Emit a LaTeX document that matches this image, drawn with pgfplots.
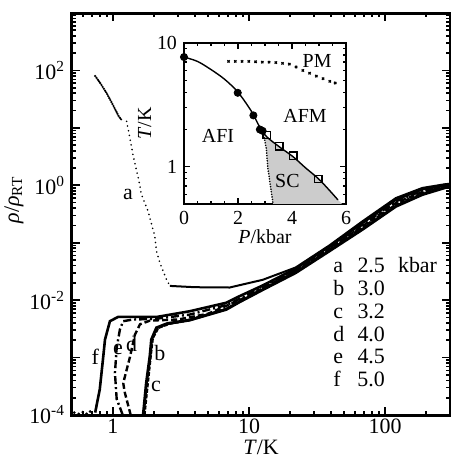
\documentclass[border=0pt]{standalone}
\usepackage{fontspec}
\setmainfont{Liberation Serif}
\usepackage{pgfplots}
\pgfplotsset{compat=1.18}

\begin{document}
\begin{tikzpicture}
\path[use as bounding box] (-36bp,-21bp) rectangle (189.5bp,207.5bp);

% main panel: rho/rho_RT against T
\begin{axis}[
  at={(0,0)}, anchor=south west, scale only axis,
  width=189bp, height=201bp,
  xmode=log, ymode=log,
  xmin=0.5, xmax=300, ymin=1e-4, ymax=1e3,
  axis line style={line width=1.5bp},
  xtick={1,10,100}, xticklabels={1,10,100},
  minor xtick={0.5,0.6,0.7,0.8,0.9,2,3,4,5,6,7,8,9,20,30,40,50,60,70,80,90,200,300},
  ytick={1e-4,1e-3,1e-2,1e-1,1,10,100,1000},
  yticklabels={10\textsuperscript{-4},,10\textsuperscript{-2},,10\textsuperscript{0},,10\textsuperscript{2},},
  major tick length=4bp, minor tick length=2bp,
  every tick/.style={line width=0.8bp, black},
  tick label style={font=\fontsize{11}{13}\selectfont},
  xticklabel style={yshift=1.5bp},
  label style={font=\fontsize{11}{13}\selectfont},
  xlabel={\textit{T}/K},
  ylabel={\textit{ρ}/\textit{ρ}\textsubscript{RT}},
  xlabel style={yshift=3.5bp},
  ylabel style={yshift=-4bp, xshift=7bp},
]
% a 2.5 kbar
\addplot[black, line width=1.2bp, line cap=round, dash pattern=on 0pt off 1.1bp] coordinates {
  (0.74,80)(0.8,62)(0.9,40)(1.0,25)(1.1,16)(1.15,14)
};
\addplot[black, line width=0.9bp, line cap=round, dash pattern=on 0pt off 2.4bp] coordinates {
  (1.26,13)(1.32,7.4)(1.41,3.2)(1.55,1.2)(1.62,0.69)(1.81,0.355)(2.03,0.13)
  (2.09,0.071)(2.21,0.045)(2.47,0.023)(2.62,0.0177)
};
\addplot[black, line width=1bp] coordinates {
  (2.62,0.0177)(4,0.0168)(7.2,0.0166)(12.6,0.0226)(22,0.037)(39,0.09)
  (68,0.235)(120,0.60)(188,0.90)(280,1.05)(300,1.06)
};
% f 5.0 kbar
\addplot[black, line width=1.3bp] coordinates {
  (0.74,1.1e-4)(0.80,2.8e-4)(0.849,1.05e-3)(0.874,2.06e-3)(0.95,4.3e-3)(1.09,5.1e-3)
  (2.1,5.1e-3)(3.66,6.4e-3)(6.8,9.0e-3)(8.5,0.0117)(12.6,0.018)(22,0.0355)
  (39,0.0861)(68,0.220)(120,0.561)(188,0.853)(280,1.02)(300,1.05)
};
\addplot[black, only marks, mark=*, mark size=0.45pt] coordinates {
  (0.52,1.1e-4)(0.56,1.05e-4)(0.6,1.12e-4)(0.64,1.05e-4)(0.68,1.15e-4)
};
% e 4.5 kbar
\addplot[black, line width=1.2bp, dash pattern=on 4bp off 1.5bp on 1bp off 1.5bp] coordinates {
  (1.18,1.0e-4)(1.065,1.9e-4)(1.034,5.4e-4)(1.065,1.47e-3)(1.125,3.1e-3)(1.19,4.3e-3)
  (1.4,4.6e-3)(2.0,4.7e-3)(3.66,5.6e-3)(6.8,8.2e-3)(8.5,0.0105)(12.6,0.0168)(22,0.034)
  (39,0.0822)(68,0.206)(120,0.525)(188,0.809)(280,0.995)(300,1.02)
};
% d 4.0 kbar
\addplot[black, line width=1.2bp, dash pattern=on 3bp off 1.5bp] coordinates {
  (1.35,1.0e-4)(1.22,2.5e-4)(1.19,3.6e-4)(1.33,1.0e-3)(1.45,2.5e-3)(1.58,3.8e-3)
  (1.87,4.4e-3)(3,4.6e-3)(5,5.8e-3)(8.5,0.0100)(12.6,0.0160)(22,0.0326)
  (39,0.0787)(68,0.193)(120,0.491)(188,0.767)(280,0.97)(300,1.0)
};
% c 3.2 kbar
\addplot[black, line width=1.3bp, dash pattern=on 2bp off 0.8bp] coordinates {
  (1.70,1.0e-4)(1.80,3.6e-4)(1.90,1.2e-3)(1.96,2.2e-3)(2.15,3.3e-3)(2.6,3.9e-3)
  (3.66,4.5e-3)(6.8,7.0e-3)(8.5,9.4e-3)(12.6,0.0155)(22,0.0313)
  (39,0.0752)(68,0.181)(120,0.459)(188,0.728)(280,0.944)(300,0.98)
};
% b 3.0 kbar
\addplot[black, line width=1.5bp] coordinates {
  (1.67,1.0e-4)(1.76,3.6e-4)(1.87,1.05e-3)(1.92,2.06e-3)(2.09,3.3e-3)(2.5,3.9e-3)
  (3.66,4.5e-3)(6.8,6.9e-3)(8.5,0.0093)(12.6,0.0152)(22,0.030)
  (39,0.072)(68,0.17)(120,0.43)(188,0.69)(280,0.92)(300,0.95)
};
\node[font=\fontsize{11}{13}\selectfont] at (axis cs:1.29,0.69) {a};
\node[font=\fontsize{11}{13}\selectfont] at (axis cs:0.74,1.05e-3) {f};
\node[font=\fontsize{11}{13}\selectfont] at (axis cs:1.09,1.4e-3) {e};
\node[font=\fontsize{11}{13}\selectfont] at (axis cs:1.37,1.7e-3) {d};
\node[font=\fontsize{11}{13}\selectfont] at (axis cs:2.21,1.2e-3) {b};
\node[font=\fontsize{11}{13}\selectfont] at (axis cs:2.07,3.2e-4) {c};
\end{axis}

\node[anchor=base west, inner sep=0pt, font=\fontsize{11}{11.4}\selectfont] at (130.5bp,71bp) {%
  \begin{tabular}[t]{@{}l@{\hspace{0.6em}}l@{}}
  a & 2.5\hspace{0.6em}kbar\\
  b & 3.0\\
  c & 3.2\\
  d & 4.0\\
  e & 4.5\\
  f & 5.0
  \end{tabular}};

% inset: phase diagram T against P
\begin{axis}[
  at={(56bp,105.5bp)}, anchor=south west, scale only axis,
  width=81bp, height=80.5bp,
  ymode=log, xmin=0, xmax=6, ymin=0.5, ymax=10,
  axis background/.style={fill=white},
  axis line style={line width=1.2bp},
  xtick={0,2,4,6}, xticklabels={0,2,4,6},
  minor x tick num=3,
  ytick={1,10}, yticklabels={1,10},
  minor ytick={0.5,0.6,0.7,0.8,0.9,2,3,4,5,6,7,8,9},
  major tick length=3bp, minor tick length=1.5bp,
  every tick/.style={line width=0.7bp, black},
  tick label style={font=\fontsize{10}{12}\selectfont},
  label style={font=\fontsize{10}{12}\selectfont},
  xlabel={\textit{P}/kbar},
  ylabel={\textit{T}/K},
  xlabel style={yshift=4bp},
  ylabel style={yshift=-4bp},
]
\addplot[fill=gray!40, draw=none] coordinates {
  (2.98,1.78)(3.53,1.45)(4.05,1.2)(4.5,0.98)(4.98,0.8)(5.4,0.64)(5.85,0.5)
  (3.3,0.5)(3.2,0.7)(3.1,1.0)(3.05,1.4)
} -- cycle;
\addplot[black, line width=0.9bp, line cap=round, dash pattern=on 0pt off 1.3bp] coordinates {
  (2.95,1.8)(3.05,1.4)(3.1,1.0)(3.2,0.7)(3.3,0.5)
};
\addplot[black, line width=0.7bp, smooth] coordinates {
  (0,7.7)(0.5,7.1)(1.0,6.1)(1.5,5.1)(2.0,4.0)(2.5,2.8)(2.8,2.1)(3.06,1.75)
  (3.53,1.45)(4.05,1.2)(4.5,0.98)(4.98,0.80)(5.4,0.64)(5.7,0.54)
};
\addplot[black, only marks, mark=x, mark size=0.8pt, mark options={line width=0.6bp}] coordinates {
  (1.65,7.1)(1.9,7.1)(2.15,7.1)(2.4,7.1)(2.65,7.05)(2.9,7.0)(3.15,7.0)(3.4,6.95)
  (3.65,6.85)(3.9,6.75)(4.15,6.4)(4.4,6.0)(4.65,5.7)(4.9,5.4)(5.15,5.15)(5.4,4.9)(5.6,4.75)
};
\addplot[black, only marks, mark=*, mark size=1.8bp] coordinates {
  (0,7.7)(1.99,3.96)(2.57,2.6)(2.81,2.0)(2.91,1.95)
};
\addplot[black, only marks, mark=square, mark size=1.8bp, mark options={line width=0.6bp, fill=white}] coordinates {
  (3.06,1.8)(3.53,1.46)(4.05,1.23)(4.98,0.80)
};
\node[font=\fontsize{10}{12}\selectfont] at (axis cs:4.93,7.1) {PM};
\node[font=\fontsize{10}{12}\selectfont] at (axis cs:4.48,2.56) {AFM};
\node[font=\fontsize{10}{12}\selectfont] at (axis cs:1.26,1.77) {AFI};
\node[font=\fontsize{10}{12}\selectfont] at (axis cs:3.83,0.766) {SC};
\end{axis}
\end{tikzpicture}
\end{document}
